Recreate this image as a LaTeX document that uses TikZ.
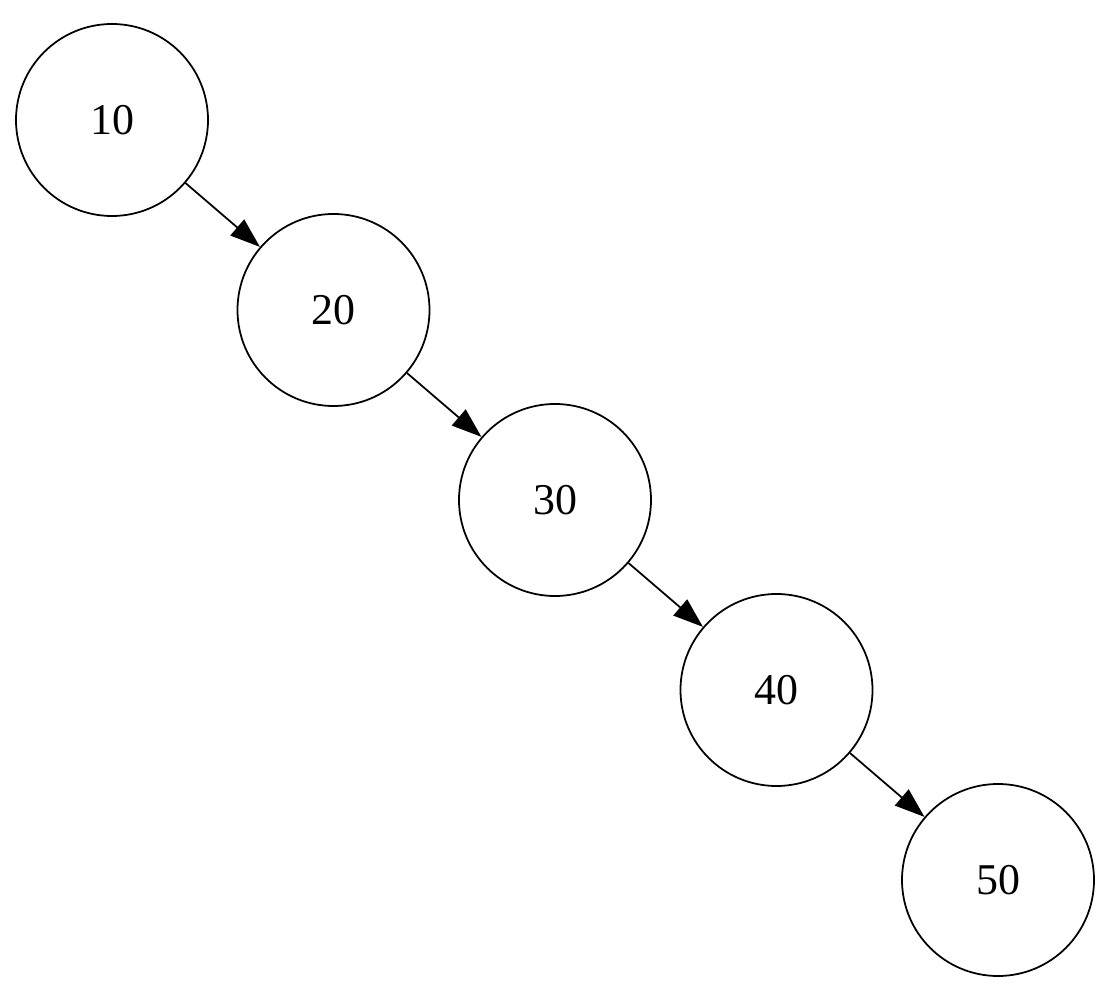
\documentclass[tikz,border=0pt]{standalone}
\usepackage{fontspec}
\setmainfont{Liberation Serif}
\usetikzlibrary{arrows.meta}
\begin{document}
\begin{tikzpicture}[>={Triangle[length=0.6cm,width=0.42cm]},
	bstnode/.style={draw,circle,line width=1pt,minimum size=3.84cm,inner sep=0pt,font=\fontsize{25}{28}\selectfont}]
			\def\mybstx{2.24}\def\mybsty{2.4}
			\def\mybstdx{4.43}\def\mybstdy{3.8}
			\useasboundingbox (0,0) rectangle (22.34,-19.9);
			\node[bstnode] (mybstna) at (\mybstx,-\mybsty) {10};
			\node[bstnode] (mybstnb) at (\mybstx+\mybstdx,-\mybsty-\mybstdy) {20};
			\node[bstnode] (mybstnc) at (\mybstx+2*\mybstdx,-\mybsty-2*\mybstdy) {30};
			\node[bstnode] (mybstnd) at (\mybstx+3*\mybstdx,-\mybsty-3*\mybstdy) {40};
			\node[bstnode] (mybstne) at (\mybstx+4*\mybstdx,-\mybsty-4*\mybstdy) {50};
			\draw[->,line width=1pt](mybstna) edge (mybstnb) (mybstnb) edge (mybstnc)
			(mybstnc) edge (mybstnd) (mybstnd) edge (mybstne);
		\end{tikzpicture}
\end{document}
